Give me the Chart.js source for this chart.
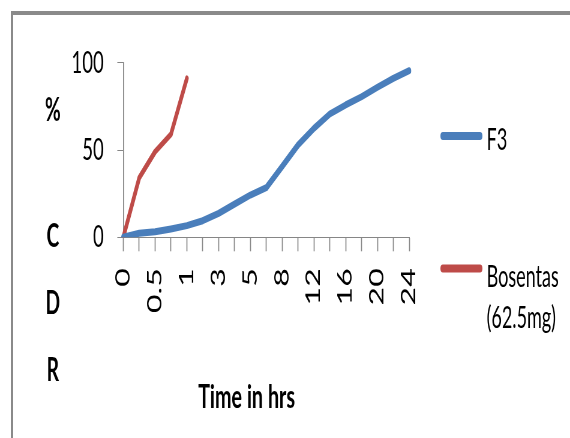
<!DOCTYPE html>
<html>
<head>
<meta charset="utf-8">
<script src="https://cdn.jsdelivr.net/npm/chart.js@4"></script>
<style>
  html, body { margin: 0; padding: 0; background: #fff; overflow: hidden; }
  #stage { position: relative; width: 570px; height: 438px; overflow: hidden; background: #fff; }
  /* the chart is drawn wide and squeezed horizontally */
  #chart { position: absolute; left: 0; top: 0; transform: scaleX(0.6); transform-origin: 0 0; }
  #frame { position: absolute; left: 11px; top: 11px; width: 570px; height: 440px;
           border-top: 4px solid #8a8a8a; border-left: 2px solid #8a8a8a; pointer-events: none; }
</style>
</head>
<body>
<div id="stage">
  <canvas id="chart" width="950" height="438"></canvas>
  <div id="frame"></div>
</div>
<script>
// Time points (hrs)
const times = ['0', '0.25', '0.5', '0.75', '1', '2', '3', '4', '5', '6', '8', '10', '12', '14', '16', '18', '20', '22', '24'];
// Cumulative drug release (%)
const f3Release = [0, 2.3, 3.2, 4.8, 6.7, 9.5, 13.7, 19, 24.2, 28.4, 40.5, 52.9, 62.4, 70.6, 75.8, 80.5, 85.9, 91, 95.4];
const bosentasRelease = [0, 34, 49, 59, 91];
const seriesNames = ['F3', 'Bosentas (62.5mg)'];
const seriesColors = ['#4a7ebb', '#be4b48'];
const yTicks = [0, 50, 100];
const yTitleLetters = ['%', 'C', 'D', 'R'];
const xTitle = 'Time in hrs';

const FONT = 'Lato';
const AXIS_GRAY = '#868686';

// Stacked y title, x title and a custom legend (legend text may wrap)
const annotate = {
  id: 'annotate',
  afterDraw(chart) {
    const ctx = chart.ctx;
    ctx.save();
    ctx.fillStyle = '#000';
    ctx.textAlign = 'center';
    ctx.textBaseline = 'middle';
    ctx.font = `bold 32px ${FONT}`;
    const letterY = [111, 237, 304, 371];
    yTitleLetters.forEach((ch, i) => ctx.fillText(ch, 88, letterY[i]));

    ctx.font = `bold 33px ${FONT}`;
    ctx.fillText(xTitle, 411, 397);

    // legend
    const items = [
      { lines: ['F3'], y: 136, textY: 140 },
      { lines: ['Bosentas', '(62.5mg)'], y: 268.5, textY: 277 }
    ];
    ctx.textAlign = 'left';
    ctx.font = `30px ${FONT}`;
    chart.data.datasets.forEach((ds, i) => {
      const it = items[i];
      ctx.strokeStyle = ds.borderColor;
      ctx.lineWidth = 8;
      ctx.lineCap = 'round';
      ctx.beginPath();
      ctx.moveTo(738, it.y);
      ctx.lineTo(800, it.y);
      ctx.stroke();
      it.lines.forEach((t, k) => ctx.fillText(t, 811, it.textY + k * 41));
    });
    ctx.restore();
  }
};

new Chart(document.getElementById('chart'), {
  type: 'line',
  data: {
    labels: times,
    datasets: [
      { label: seriesNames[0], data: f3Release, borderColor: seriesColors[0], backgroundColor: seriesColors[0],
        borderWidth: 7, pointRadius: 0, tension: 0, borderJoinStyle: 'round', borderCapStyle: 'round' },
      { label: seriesNames[1], data: bosentasRelease, borderColor: seriesColors[1], backgroundColor: seriesColors[1],
        borderWidth: 6, pointRadius: 0, tension: 0, borderJoinStyle: 'round', borderCapStyle: 'round' }
    ]
  },
  options: {
    responsive: false,
    animation: false,
    devicePixelRatio: 1,
    layout: { padding: { left: 0, top: 62.7, right: 268, bottom: 0 } },
    plugins: { legend: { display: false }, tooltip: { enabled: false } },
    scales: {
      x: {
        type: 'category',
        offset: false,
        grid: { drawOnChartArea: false, drawTicks: true, tickLength: 14, tickWidth: 1.7, tickColor: AXIS_GRAY },
        border: { color: AXIS_GRAY, width: 1 },
        ticks: {
          autoSkip: false, maxRotation: 90, minRotation: 90, padding: 17,
          color: '#000', font: { family: FONT, size: 32 },
          callback: function (value, index) { return index % 2 === 0 ? times[index] : ''; }
        },
        afterFit(scale) { scale.height = 438 - 237.3; }
      },
      y: {
        min: 0, max: 100,
        afterBuildTicks(scale) { scale.ticks = yTicks.map(v => ({ value: v })); },
        grid: { drawOnChartArea: false, drawTicks: true, tickLength: 10, tickWidth: 1, tickColor: AXIS_GRAY },
        border: { color: AXIS_GRAY, width: 1.7 },
        ticks: { padding: 22.5, color: '#000', font: { family: FONT, size: 31 } },
        afterFit(scale) { scale.width = 205.5; }
      }
    }
  },
  plugins: [annotate]
});
</script>
</body>
</html>
